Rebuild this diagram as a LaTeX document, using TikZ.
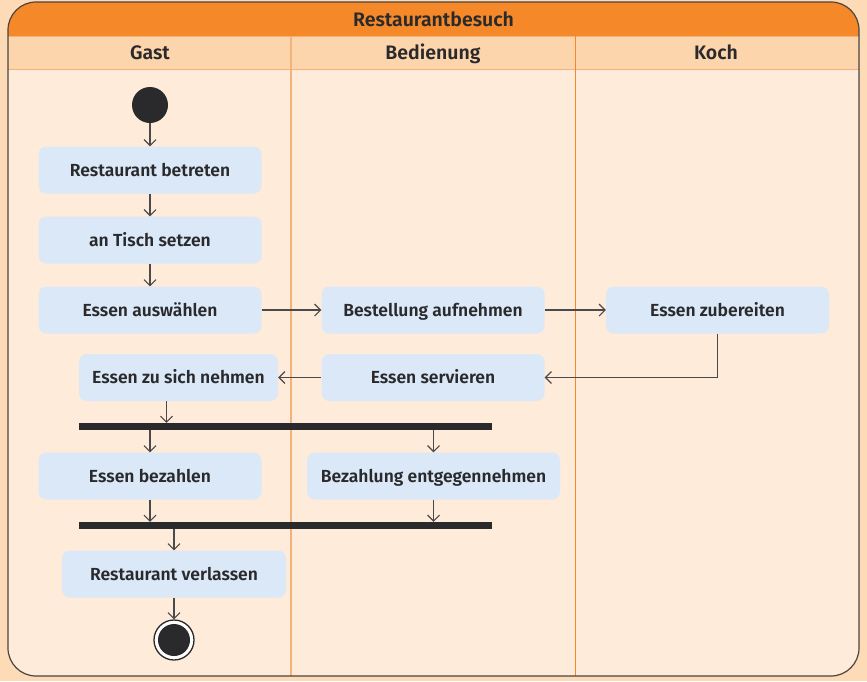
\documentclass[tikz,border=0pt]{standalone}
\usepackage{fontspec}
\setmainfont{Fira Sans}[BoldFont={Fira Sans SemiBold}]
\usetikzlibrary{arrows.meta,positioning}
\definecolor{outerbg}{HTML}{FDDBB6}
\definecolor{bodybg}{HTML}{FEEBDA}
\definecolor{titleor}{HTML}{F5892A}
\definecolor{heador}{HTML}{FDD5AC}
\definecolor{laneline}{HTML}{F5892A}
\definecolor{laneline2}{HTML}{F2B27A}
\definecolor{boxblue}{HTML}{DAE8F8}
\definecolor{ink}{HTML}{2A2A2C}
\definecolor{frame}{HTML}{4A4440}
\tikzset{
  actbox/.style={rounded corners=8pt, fill=boxblue, minimum height=47pt, inner sep=0pt,
    text height=14pt, text depth=2pt,
    font=\fontsize{17.5}{19}\selectfont\bfseries, text=ink},
  arr/.style={draw=ink!85, line width=1.1pt, -{Straight Barb[length=6pt,width=12pt,line width=1.1pt]}},
  forkbar/.style={fill=ink, minimum width=413pt, minimum height=7pt, inner sep=0pt},
  headtxt/.style={font=\fontsize{19.5}{21}\selectfont\bfseries, text=ink,
    text height=15.5pt, text depth=2.5pt, inner sep=0pt},
}
\begin{document}
\begin{tikzpicture}[x=1pt,y=-1pt]
\useasboundingbox (0,0) rectangle (867,681);
\fill[outerbg] (0,0) rectangle (867,681);
% frame
\begin{scope}
\clip[rounded corners=28pt] (8,2) rectangle (859,676);
\fill[bodybg] (8,2) rectangle (859,676);
\fill[titleor] (8,2) rectangle (859,36);
\fill[heador] (8,36) rectangle (859,69);
\draw[laneline2, line width=0.8pt] (8,36) -- (859,36);
\draw[laneline2, line width=0.8pt] (8,69) -- (859,69);
\draw[laneline2, line width=1.3pt] (291,36) -- (291,676);
\draw[laneline, line width=1pt] (575,36) -- (575,676);
\end{scope}
\draw[frame, line width=1.2pt, rounded corners=28pt] (8,2) rectangle (859,676);
\node[headtxt] (title) at (433.5,20) {Restaurantbesuch};
\node[headtxt] (hgast) at (150,53) {Gast};
\node[headtxt] (hbed) at (433,53) {Bedienung};
\node[headtxt] (hkoch) at (716,53) {Koch};
% nodes
\node[circle, fill=ink, minimum size=36pt, inner sep=0pt] (start) at (150,105) {};
\node[actbox, minimum width=223pt] (betreten) at (150,170) {Restaurant betreten};
\node[actbox, minimum width=223pt] (tisch) at (150,240) {an Tisch setzen};
\node[actbox, minimum width=223pt] (auswahl) at (150,310) {Essen auswählen};
\node[actbox, minimum width=223pt] (bestell) at (433,310) {Bestellung aufnehmen};
\node[actbox, minimum width=223pt] (zubereit) at (717.5,310) {Essen zubereiten};
\node[actbox, minimum width=223pt] (servier) at (433,377.5) {Essen servieren};
\node[actbox, minimum width=199pt] (nehmen) at (178.5,377.5) {Essen zu sich nehmen};
\node[forkbar] (bar1) at (285.5,426.5) {};
\node[actbox, minimum width=223pt] (bezahlen) at (150,476) {Essen bezahlen};
\node[actbox, minimum width=253pt] (entgegen) at (433.5,476) {Bezahlung entgegennehmen};
\node[forkbar] (bar2) at (285.5,525.5) {};
\node[actbox, minimum width=224pt] (verlassen) at (174,574) {Restaurant verlassen};
\node[circle, draw=ink, line width=1.3pt, fill=white, minimum size=40pt, inner sep=0pt] (ende) at (174,640) {};
\node[circle, fill=ink, minimum size=32pt, inner sep=0pt] (endedot) at (ende.center) {};
% connectors
\draw[arr] (start) -- (betreten);
\draw[arr] (betreten) -- (tisch);
\draw[arr] (tisch) -- (auswahl);
\draw[arr] (auswahl) -- (bestell);
\draw[arr] (bestell) -- (zubereit);
\draw[arr] (zubereit.south) |- (servier.east);
\draw[arr] (servier) -- (nehmen);
\coordinate (nehmenout) at ([xshift=-12pt]nehmen.south);
\draw[arr] (nehmenout) -- (nehmenout |- bar1.north);
\draw[arr] (bezahlen.north |- bar1.south) -- (bezahlen.north);
\draw[arr] (entgegen.north |- bar1.south) -- (entgegen.north);
\draw[arr] (bezahlen.south) -- (bezahlen.south |- bar2.north);
\draw[arr] (entgegen.south) -- (entgegen.south |- bar2.north);
\draw[arr] (verlassen.north |- bar2.south) -- (verlassen.north);
\draw[arr] (verlassen) -- (ende);
\end{tikzpicture}
\end{document}
